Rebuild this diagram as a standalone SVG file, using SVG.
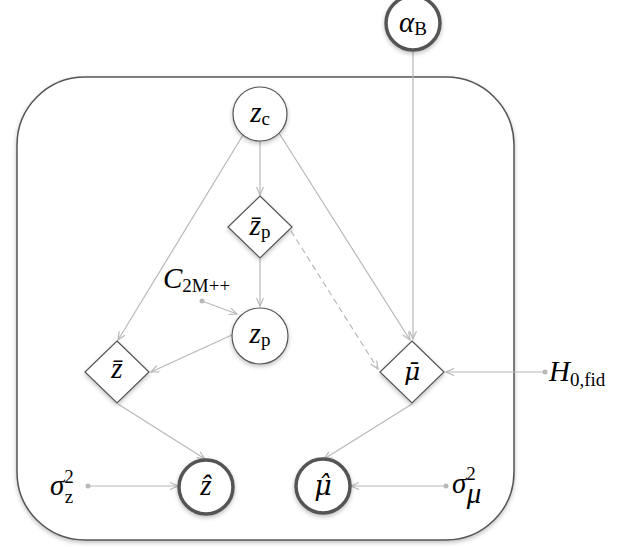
<svg xmlns="http://www.w3.org/2000/svg" width="636" height="547" viewBox="0 0 636 547">
<defs>
<filter id="sh" x="-20%" y="-20%" width="140%" height="140%">
<feDropShadow dx="0" dy="2" stdDeviation="2" flood-color="#000" flood-opacity="0.25"/>
</filter>
<marker id="arr" viewBox="0 0 10 8" refX="9" refY="4" markerWidth="10" markerHeight="8" markerUnits="userSpaceOnUse" orient="auto">
<path d="M1,0.5 L9,4 L1,7.5" fill="none" stroke="#b8b8b8" stroke-width="1.2"/>
</marker>
</defs>
<style>
.plate{fill:#fff;stroke:#555;stroke-width:1.5}
.thin{fill:#fff;stroke:#555;stroke-width:1.2}
.thick{fill:#fff;stroke:#555;stroke-width:3.5}
.e{fill:none;stroke:#b8b8b8;stroke-width:1.2;marker-end:url(#arr)}
.d{fill:none;stroke:#b8b8b8;stroke-width:1.2;stroke-dasharray:6 4;marker-end:url(#arr)}
.dot{fill:#b8b8b8}
text{font-family:"Liberation Serif","DejaVu Serif",serif;fill:#000}
.v{font-style:italic;font-size:29px}
.s{font-style:normal;font-size:19px}
.mu{font-family:"DejaVu Serif",serif;font-style:italic}
</style>
<rect class="plate" x="17" y="77" width="497" height="463" rx="68" ry="68" filter="url(#sh)"/>
<g id="connectors">
<line class="e" x1="413" y1="51" x2="413" y2="339"/>
<line class="e" x1="260" y1="141" x2="260" y2="195"/>
<line class="e" x1="243" y1="135" x2="118" y2="340"/>
<line class="e" x1="279" y1="133" x2="410" y2="340"/>
<line class="e" x1="260" y1="259" x2="260" y2="306"/>
<line class="d" x1="291" y1="231" x2="378" y2="369"/>
<circle class="dot" cx="202" cy="301" r="2.5"/>
<line class="e" x1="202" y1="301" x2="237" y2="314"/>
<line class="e" x1="234" y1="334" x2="151" y2="372"/>
<line class="e" x1="118" y1="404" x2="205" y2="459"/>
<line class="e" x1="412" y1="404" x2="324" y2="459"/>
<circle class="dot" cx="545" cy="372" r="2.5"/>
<line class="e" x1="545" y1="372" x2="446" y2="372"/>
<circle class="dot" cx="88" cy="486" r="2.5"/>
<line class="e" x1="88" y1="486" x2="178" y2="486"/>
<circle class="dot" cx="446" cy="486" r="2.5"/>
<line class="e" x1="446" y1="486" x2="351" y2="486"/>
</g>
<g id="alphaB">
<circle class="thick" cx="413" cy="23" r="27" filter="url(#sh)"/>
<text x="413" y="32" text-anchor="middle"><tspan class="v">α</tspan><tspan class="s" dy="3">B</tspan></text>
</g>
<g id="zc">
<circle class="thin" cx="260" cy="114" r="27" filter="url(#sh)"/>
<text x="260" y="122" text-anchor="middle"><tspan class="v">z</tspan><tspan class="s" dy="3">c</tspan></text>
</g>
<g id="zbarp">
<polygon class="thin" points="260,196 292,227 260,258 228,227" filter="url(#sh)"/>
<text x="260" y="235" text-anchor="middle"><tspan class="v">z̄</tspan><tspan class="s" dy="3">p</tspan></text>
</g>
<g id="C2M">
<text x="163" y="288"><tspan class="v" font-size="26">C</tspan><tspan class="s" dy="4">2M++</tspan></text>
</g>
<g id="zp">
<circle class="thin" cx="260" cy="336" r="28" filter="url(#sh)"/>
<text x="260" y="343" text-anchor="middle"><tspan class="v">z</tspan><tspan class="s" dy="3">p</tspan></text>
</g>
<g id="zbar">
<polygon class="thin" points="117,341 149,372 117,403 85,372" filter="url(#sh)"/>
<text x="117" y="378" text-anchor="middle" class="v" font-size="21">z̄</text>
</g>
<g id="mubar">
<polygon class="thin" points="412,341 444,372 412,403 380,372" filter="url(#sh)"/>
<text x="412" y="380" text-anchor="middle" class="mu" font-size="25">μ̄</text>
</g>
<g id="H0fid">
<text x="549" y="381"><tspan class="v">H</tspan><tspan class="s" font-size="20" dy="5">0,fid</tspan></text>
</g>
<g id="zhat">
<circle class="thick" cx="206" cy="487" r="27" filter="url(#sh)"/>
<text x="206" y="495" text-anchor="middle" class="v" font-size="25">ẑ</text>
</g>
<g id="muhat">
<circle class="thick" cx="323" cy="486" r="27" filter="url(#sh)"/>
<text x="323" y="495" text-anchor="middle" class="mu" font-size="27">μ̂</text>
</g>
<g id="sigz">
<text x="50" y="495"><tspan class="v">σ</tspan><tspan class="s" font-size="18" dy="-12">2</tspan><tspan class="s" font-size="18" dx="-9" dy="20">z</tspan></text>
</g>
<g id="sigmu">
<text x="452" y="493"><tspan class="v">σ</tspan><tspan class="s" font-size="17" dy="-13">2</tspan><tspan class="v" font-size="17" dx="-9" dy="23">μ</tspan></text>
</g>
</svg>
